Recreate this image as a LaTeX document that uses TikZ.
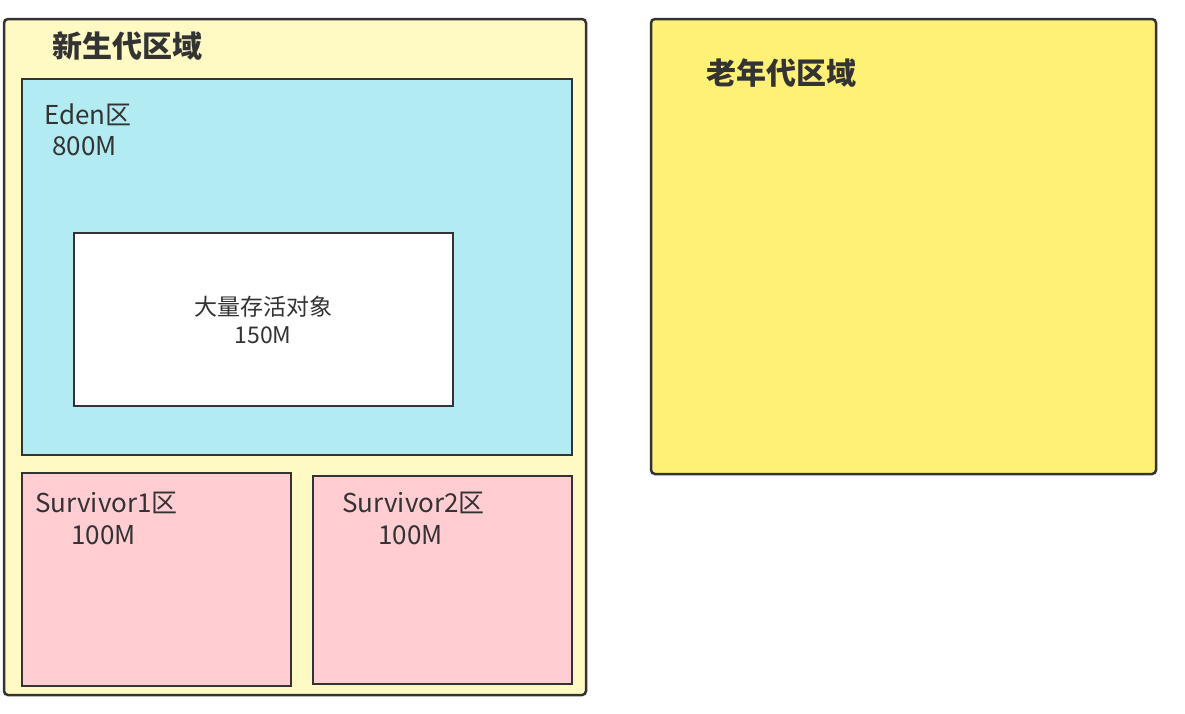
\documentclass[tikz,border=0pt]{standalone}
\usepackage{fontspec}
\setmainfont{Noto Sans CJK SC}
\definecolor{edge}{HTML}{333333}
\definecolor{young}{HTML}{FFF9C4}
\definecolor{eden}{HTML}{B2EBF2}
\definecolor{surv}{HTML}{FFCDD2}
\definecolor{old}{HTML}{FFF176}
\begin{document}
\begin{tikzpicture}[x=1pt,y=-1pt,
  area/.style={draw=edge,line width=2.5pt},
  lbl/.style={text=edge,font=\fontsize{26}{30}\selectfont,anchor=west,inner sep=0},
  inr/.style={text=edge,font=\fontsize{23}{27}\selectfont,inner sep=0},
  ttl/.style={text=edge,font=\fontsize{30}{34}\selectfont\bfseries,inner sep=0}]
\useasboundingbox (0,0) rectangle (1185,713);
\draw[area,fill=young,rounded corners=4pt] (4,19) rectangle (586,695);
\node[ttl] (t1) at (127,46) {新生代区域};
\draw[area,fill=eden] (22,79) rectangle (572,455);
\node[lbl] (e1) at (44,115) {Eden区};
\node[lbl] (e2) at (52,146) {800M};
\draw[area,fill=white] (74,233) rectangle (453,406);
\node[inr] (b1) at (263,307) {大量存活对象};
\node[inr] (b2) at (263,335) {150M};
\draw[area,fill=surv] (22,473) rectangle (291,686);
\node[lbl] (s1) at (35,503) {Survivor1区};
\node[lbl] (s1m) at (71,535) {100M};
\draw[area,fill=surv] (313,476) rectangle (572,684);
\node[lbl] (s2) at (342,503) {Survivor2区};
\node[lbl] (s2m) at (378,535) {100M};
\draw[area,fill=old,rounded corners=4pt] (651,19) rectangle (1156,474);
\node[ttl] (t2) at (781,73) {老年代区域};
\end{tikzpicture}
\end{document}
